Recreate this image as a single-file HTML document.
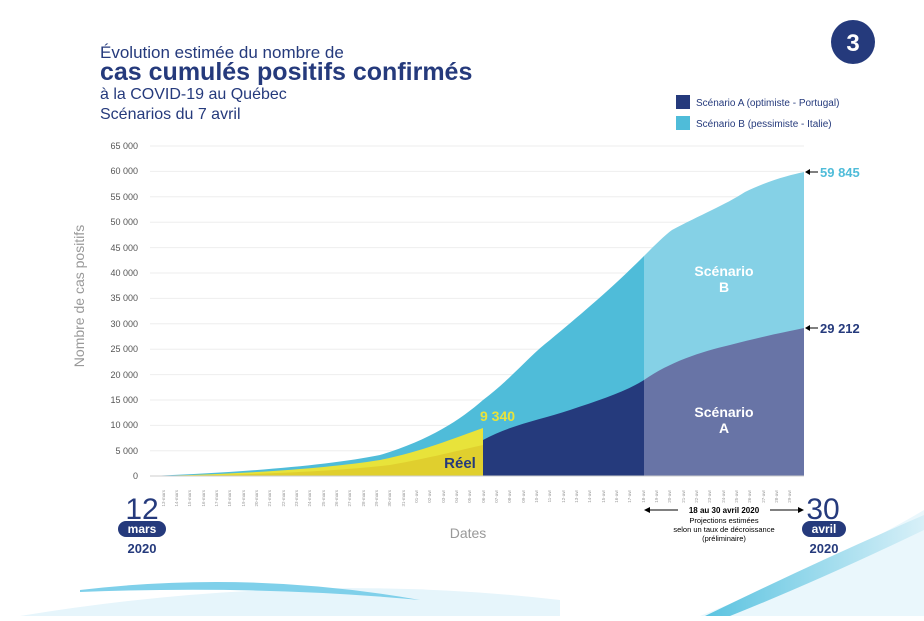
<!DOCTYPE html>
<html><head><meta charset="utf-8"><style>
body{margin:0;width:924px;height:616px;overflow:hidden;background:#fff;font-family:"Liberation Sans",sans-serif}
</style></head><body>
<svg width="924" height="616" viewBox="0 0 924 616" xmlns="http://www.w3.org/2000/svg" font-family="Liberation Sans, sans-serif">
<defs><linearGradient id="sw" x1="0" x2="1"><stop offset="0" stop-color="#5bc3e0"/><stop offset="1" stop-color="#d8f0f8"/></linearGradient></defs>
<path d="M20 616 Q300 570 560 600 L560 616Z" fill="#e6f5fb"/>
<path d="M80 590 Q250 570 420 600 Q260 585 80 592Z" fill="#7fd0ea"/>
<path d="M700 616 Q840 560 924 510 L924 616Z" fill="#eaf7fc"/>
<path d="M705 616 Q820 560 924 515 L924 530 Q820 580 730 616Z" fill="url(#sw)"/>
<circle cx="853" cy="42" r="22" fill="#253a7c"/>
<text x="853" y="51" text-anchor="middle" fill="#fff" font-size="24" font-weight="bold">3</text>
<text x="100" y="58" fill="#253a7c" font-size="17">Évolution estimée du nombre de</text>
<text x="100" y="80" fill="#253a7c" font-size="25" font-weight="bold">cas cumulés positifs confirmés</text>
<text x="100" y="99" fill="#253a7c" font-size="16">à la COVID-19 au Québec</text>
<text x="100" y="119" fill="#253a7c" font-size="16">Scénarios du 7 avril</text>
<rect x="676" y="95" width="14" height="14" fill="#253a7c"/>
<text x="696" y="106" font-size="10" fill="#253a7c">Scénario A (optimiste - Portugal)</text>
<rect x="676" y="116" width="14" height="14" fill="#4fbcd9"/>
<text x="696" y="127" font-size="10" fill="#253a7c">Scénario B (pessimiste - Italie)</text>
<g stroke="#eee" stroke-width="1">
<line x1="150" x2="804" y1="146" y2="146"/><line x1="150" x2="804" y1="171.4" y2="171.4"/><line x1="150" x2="804" y1="196.8" y2="196.8"/><line x1="150" x2="804" y1="222.2" y2="222.2"/><line x1="150" x2="804" y1="247.6" y2="247.6"/><line x1="150" x2="804" y1="273" y2="273"/><line x1="150" x2="804" y1="298.4" y2="298.4"/><line x1="150" x2="804" y1="323.8" y2="323.8"/><line x1="150" x2="804" y1="349.2" y2="349.2"/><line x1="150" x2="804" y1="374.6" y2="374.6"/><line x1="150" x2="804" y1="400" y2="400"/><line x1="150" x2="804" y1="425.4" y2="425.4"/><line x1="150" x2="804" y1="450.8" y2="450.8"/>
</g>
<g font-size="9" fill="#555" text-anchor="end">
<text x="138" y="149">65 000</text><text x="138" y="174">60 000</text><text x="138" y="200">55 000</text><text x="138" y="225">50 000</text><text x="138" y="251">45 000</text><text x="138" y="276">40 000</text><text x="138" y="301">35 000</text><text x="138" y="327">30 000</text><text x="138" y="352">25 000</text><text x="138" y="378">20 000</text><text x="138" y="403">15 000</text><text x="138" y="428">10 000</text><text x="138" y="454">5 000</text><text x="138" y="479">0</text>
</g>
<text transform="translate(84 296) rotate(-90)" text-anchor="middle" font-size="14" fill="#999">Nombre de cas positifs</text>
<!-- B -->
<path d="M150 476 C250 472 330 465 380 455 C430 440 460 420 483 400 C510 380 530 355 550 340 C580 315 610 290 644 256 L644 476Z" fill="#4fbcd9"/>
<path d="M644 256 C655 245 665 235 672 230 C700 215 725 205 745 192 C770 180 790 175 804 172 L804 476 L644 476Z" fill="#85d1e6"/>
<!-- A -->
<path d="M483 476 L483 440 C510 425 540 420 570 410 C600 400 625 392 644 380 L644 476Z" fill="#253a7c"/>
<path d="M644 380 C670 362 700 352 730 345 C760 337 785 332 804 328 L804 476 L644 476Z" fill="#6874a6"/>
<!-- Yellow -->
<path d="M150 476 C250 474 330 468 380 460 C420 452 455 438 483 428 L483 476Z" fill="#e8e33a"/>
<path d="M150 476 C260 475 340 471 390 465 C430 458 460 450 483 445 L483 476Z" fill="#e0cf2e"/>
<line x1="150" x2="804" y1="476" y2="476" stroke="#ccc"/>
<text x="460" y="468" font-size="15" font-weight="bold" fill="#253a7c" text-anchor="middle">Réel</text>
<text x="480" y="421" font-size="14" font-weight="bold" fill="#e8e33a">9 340</text>
<text x="724" y="276" font-size="14" font-weight="bold" fill="#fff" text-anchor="middle">Scénario</text>
<text x="724" y="292" font-size="14" font-weight="bold" fill="#fff" text-anchor="middle">B</text>
<text x="724" y="417" font-size="14" font-weight="bold" fill="#fff" text-anchor="middle">Scénario</text>
<text x="724" y="433" font-size="14" font-weight="bold" fill="#fff" text-anchor="middle">A</text>
<line x1="808" y1="172" x2="818" y2="172" stroke="#000"/><path d="M805 172 L810 169 L810 175Z"/>
<text x="820" y="177" font-size="13" font-weight="bold" fill="#4fbcd9">59 845</text>
<line x1="808" y1="328" x2="818" y2="328" stroke="#000"/><path d="M805 328 L810 325 L810 331Z"/>
<text x="820" y="333" font-size="13" font-weight="bold" fill="#253a7c">29 212</text>
<g font-size="4.5" fill="#999" id="ticks"></g>
<text x="468" y="538" font-size="14" fill="#999" text-anchor="middle">Dates</text>
<text x="142" y="519" font-size="30" fill="#253a7c" text-anchor="middle">12</text>
<rect x="118" y="521" width="48" height="16" rx="8" fill="#253a7c"/>
<text x="142" y="533" font-size="12" font-weight="bold" fill="#fff" text-anchor="middle">mars</text>
<text x="142" y="553" font-size="13" font-weight="bold" fill="#253a7c" text-anchor="middle">2020</text>
<text x="823" y="519" font-size="30" fill="#253a7c" text-anchor="middle">30</text>
<rect x="802" y="521" width="44" height="16" rx="8" fill="#253a7c"/>
<text x="824" y="533" font-size="12" font-weight="bold" fill="#fff" text-anchor="middle">avril</text>
<text x="824" y="553" font-size="13" font-weight="bold" fill="#253a7c" text-anchor="middle">2020</text>
<line x1="648" y1="510" x2="678" y2="510" stroke="#000"/><path d="M644 510 L650 507 L650 513Z"/>
<line x1="770" y1="510" x2="800" y2="510" stroke="#000"/><path d="M804 510 L798 507 L798 513Z"/>
<text x="724" y="513" font-size="8" font-weight="bold" text-anchor="middle">18 au 30 avril 2020</text>
<text x="724" y="523" font-size="7.5" text-anchor="middle">Projections estimées</text>
<text x="724" y="532" font-size="7.5" text-anchor="middle">selon un taux de décroissance</text>
<text x="724" y="541" font-size="7.5" text-anchor="middle">(préliminaire)</text>
<g font-size="4.5" fill="#999">
<text transform="translate(165 490) rotate(-90)" text-anchor="end">13-mars</text>
<text transform="translate(178 490) rotate(-90)" text-anchor="end">14-mars</text>
<text transform="translate(191 490) rotate(-90)" text-anchor="end">15-mars</text>
<text transform="translate(205 490) rotate(-90)" text-anchor="end">16-mars</text>
<text transform="translate(218 490) rotate(-90)" text-anchor="end">17-mars</text>
<text transform="translate(231 490) rotate(-90)" text-anchor="end">18-mars</text>
<text transform="translate(245 490) rotate(-90)" text-anchor="end">19-mars</text>
<text transform="translate(258 490) rotate(-90)" text-anchor="end">20-mars</text>
<text transform="translate(271 490) rotate(-90)" text-anchor="end">21-mars</text>
<text transform="translate(285 490) rotate(-90)" text-anchor="end">22-mars</text>
<text transform="translate(298 490) rotate(-90)" text-anchor="end">23-mars</text>
<text transform="translate(311 490) rotate(-90)" text-anchor="end">24-mars</text>
<text transform="translate(325 490) rotate(-90)" text-anchor="end">25-mars</text>
<text transform="translate(338 490) rotate(-90)" text-anchor="end">26-mars</text>
<text transform="translate(351 490) rotate(-90)" text-anchor="end">27-mars</text>
<text transform="translate(365 490) rotate(-90)" text-anchor="end">28-mars</text>
<text transform="translate(378 490) rotate(-90)" text-anchor="end">29-mars</text>
<text transform="translate(391 490) rotate(-90)" text-anchor="end">30-mars</text>
<text transform="translate(405 490) rotate(-90)" text-anchor="end">31-mars</text>
<text transform="translate(418 490) rotate(-90)" text-anchor="end">01-avr</text>
<text transform="translate(431 490) rotate(-90)" text-anchor="end">02-avr</text>
<text transform="translate(445 490) rotate(-90)" text-anchor="end">03-avr</text>
<text transform="translate(458 490) rotate(-90)" text-anchor="end">04-avr</text>
<text transform="translate(471 490) rotate(-90)" text-anchor="end">05-avr</text>
<text transform="translate(485 490) rotate(-90)" text-anchor="end">06-avr</text>
<text transform="translate(498 490) rotate(-90)" text-anchor="end">07-avr</text>
<text transform="translate(511 490) rotate(-90)" text-anchor="end">08-avr</text>
<text transform="translate(525 490) rotate(-90)" text-anchor="end">09-avr</text>
<text transform="translate(538 490) rotate(-90)" text-anchor="end">10-avr</text>
<text transform="translate(551 490) rotate(-90)" text-anchor="end">11-avr</text>
<text transform="translate(565 490) rotate(-90)" text-anchor="end">12-avr</text>
<text transform="translate(578 490) rotate(-90)" text-anchor="end">13-avr</text>
<text transform="translate(591 490) rotate(-90)" text-anchor="end">14-avr</text>
<text transform="translate(605 490) rotate(-90)" text-anchor="end">15-avr</text>
<text transform="translate(618 490) rotate(-90)" text-anchor="end">16-avr</text>
<text transform="translate(631 490) rotate(-90)" text-anchor="end">17-avr</text>
<text transform="translate(645 490) rotate(-90)" text-anchor="end">18-avr</text>
<text transform="translate(658 490) rotate(-90)" text-anchor="end">19-avr</text>
<text transform="translate(671 490) rotate(-90)" text-anchor="end">20-avr</text>
<text transform="translate(685 490) rotate(-90)" text-anchor="end">21-avr</text>
<text transform="translate(698 490) rotate(-90)" text-anchor="end">22-avr</text>
<text transform="translate(711 490) rotate(-90)" text-anchor="end">23-avr</text>
<text transform="translate(725 490) rotate(-90)" text-anchor="end">24-avr</text>
<text transform="translate(738 490) rotate(-90)" text-anchor="end">25-avr</text>
<text transform="translate(751 490) rotate(-90)" text-anchor="end">26-avr</text>
<text transform="translate(765 490) rotate(-90)" text-anchor="end">27-avr</text>
<text transform="translate(778 490) rotate(-90)" text-anchor="end">28-avr</text>
<text transform="translate(791 490) rotate(-90)" text-anchor="end">29-avr</text>
</g>
</svg>
</body></html>
